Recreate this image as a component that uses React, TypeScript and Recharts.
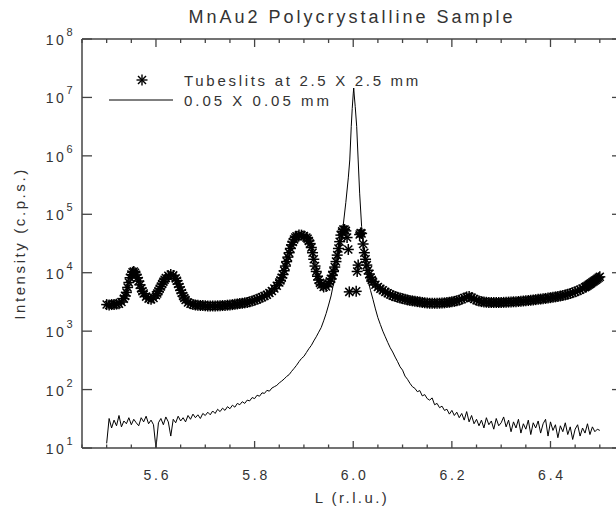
import React from 'react';
import { ComposedChart, Line, Scatter, XAxis, YAxis, Label } from 'recharts';

// 0.05 X 0.05 mm slits (solid line)
const LINE_L = [
  5.5, 5.505, 5.51, 5.515, 5.52, 5.525, 5.53, 5.535, 5.54, 5.545,
  5.55, 5.555, 5.56, 5.565, 5.57, 5.575, 5.58, 5.585, 5.59, 5.595,
  5.6, 5.605, 5.61, 5.615, 5.62, 5.625, 5.63, 5.635, 5.64, 5.645,
  5.65, 5.655, 5.66, 5.665, 5.67, 5.675, 5.68, 5.685, 5.69, 5.695,
  5.7, 5.705, 5.71, 5.715, 5.72, 5.725, 5.73, 5.735, 5.74, 5.745,
  5.75, 5.755, 5.76, 5.765, 5.77, 5.775, 5.78, 5.785, 5.79, 5.795,
  5.8, 5.805, 5.81, 5.815, 5.82, 5.825, 5.83, 5.835, 5.84, 5.845,
  5.85, 5.855, 5.86, 5.865, 5.87, 5.875, 5.88, 5.885, 5.89, 5.895,
  5.9, 5.905, 5.91, 5.915, 5.92, 5.925, 5.93, 5.935, 5.94, 5.945,
  5.95, 5.955, 5.96, 5.965, 5.97, 5.975, 5.98, 5.985,
  5.99, 5.993, 5.996, 5.998, 6.0, 6.001, 6.002, 6.004, 6.007, 6.01,
  6.013, 6.017, 6.02, 6.023,
  6.03, 6.035, 6.04, 6.045, 6.05, 6.055, 6.06, 6.065, 6.07, 6.075,
  6.08, 6.085, 6.09, 6.095, 6.1, 6.105, 6.11, 6.115, 6.12, 6.125,
  6.13, 6.135, 6.14, 6.145, 6.15, 6.155, 6.16, 6.165, 6.17, 6.175,
  6.18, 6.185, 6.19, 6.195, 6.2, 6.205, 6.21, 6.215, 6.22, 6.225,
  6.23, 6.235, 6.24, 6.245, 6.25, 6.255, 6.26, 6.265, 6.27, 6.275,
  6.28, 6.285, 6.29, 6.295, 6.3, 6.305, 6.31, 6.315, 6.32, 6.325,
  6.33, 6.335, 6.34, 6.345, 6.35, 6.355, 6.36, 6.365, 6.37, 6.375,
  6.38, 6.385, 6.39, 6.395, 6.4, 6.405, 6.41, 6.415, 6.42, 6.425,
  6.43, 6.435, 6.44, 6.445, 6.45, 6.455, 6.46, 6.465, 6.47, 6.475,
  6.48, 6.485, 6.49, 6.495, 6.5,
];
const LINE_I = [
  12, 32, 22, 30, 24, 36, 23, 29, 26, 33,
  25, 31, 27, 24, 33, 28, 35, 26, 30, 25,
  10, 27, 32, 25, 34, 28, 16, 31, 27, 35,
  29, 33, 28, 36, 31, 38, 33, 37, 32, 39,
  36, 41, 37, 43, 39, 46, 42, 48, 44, 51,
  47, 54, 50, 58, 55, 62, 58, 66, 64, 73,
  70, 80, 77, 88, 86, 97, 94, 106, 112, 118,
  130, 140, 152, 168, 180, 205, 230, 260, 300, 340,
  370, 430, 500, 570, 680, 800, 960, 1150, 1500, 2000,
  2800, 4000, 6500, 10500, 18000, 33000, 68000, 160000,
  420000, 850000, 3200000, 6500000, 11500000, 14500000, 11000000, 7000000, 3200000, 850000,
  230000, 62000, 30000, 17000,
  7500, 5000, 3500, 2400, 1700, 1300, 1000, 800, 640, 520,
  440, 360, 300, 245, 215, 170, 150, 128, 112, 105,
  92, 96, 78, 82, 70, 66, 72, 55, 58, 49,
  52, 44, 46, 38, 44, 36, 41, 33, 39, 30,
  42, 28, 36, 26, 31, 24, 30, 22, 33, 25,
  29, 21, 32, 24, 27, 34, 23, 30, 19, 28,
  22, 31, 18, 26, 21, 30, 17, 27, 22, 29,
  18, 26, 31, 16, 28, 20, 25, 15, 24, 19,
  27, 17, 23, 14, 21, 25, 16, 22, 18, 26,
  17, 23, 19, 21, 20,
];

// Tubeslits at 2.5 X 2.5 mm (asterisks)
const STAR_L = [
  5.5, 5.505, 5.51, 5.515, 5.52, 5.525, 5.53, 5.535, 5.54, 5.545,
  5.55, 5.555, 5.56, 5.565, 5.57, 5.575, 5.58, 5.585, 5.59, 5.595,
  5.6, 5.605, 5.61, 5.615, 5.62, 5.625, 5.63, 5.635, 5.64, 5.645,
  5.65, 5.655, 5.66, 5.665, 5.67, 5.675, 5.68, 5.685, 5.69, 5.695,
  5.7, 5.705, 5.71, 5.715, 5.72, 5.725, 5.73, 5.735, 5.74, 5.745,
  5.75, 5.755, 5.76, 5.765, 5.77, 5.775, 5.78, 5.785, 5.79, 5.795,
  5.8, 5.805, 5.81, 5.815, 5.82, 5.825, 5.83, 5.835, 5.84, 5.845,
  5.85, 5.855, 5.86, 5.865, 5.87, 5.875, 5.88, 5.885, 5.89, 5.895,
  5.9, 5.905, 5.91, 5.915, 5.92, 5.925, 5.93, 5.935, 5.94, 5.945,
  5.95, 5.955, 5.96, 5.965, 5.97, 5.975, 5.98, 5.985, 5.99, 5.992,
  6.006, 6.008, 6.01, 6.013, 6.017, 6.02, 6.025, 6.03, 6.035, 6.04,
  6.045, 6.05, 6.055, 6.06, 6.065, 6.07, 6.075, 6.08, 6.085, 6.09,
  6.095, 6.1, 6.105, 6.11, 6.115, 6.12, 6.125, 6.13, 6.135, 6.14,
  6.145, 6.15, 6.155, 6.16, 6.165, 6.17, 6.175, 6.18, 6.185, 6.19,
  6.195, 6.2, 6.205, 6.21, 6.215, 6.22, 6.225, 6.23, 6.235, 6.24,
  6.245, 6.25, 6.255, 6.26, 6.265, 6.27, 6.275, 6.28, 6.285, 6.29,
  6.295, 6.3, 6.305, 6.31, 6.315, 6.32, 6.325, 6.33, 6.335, 6.34,
  6.345, 6.35, 6.355, 6.36, 6.365, 6.37, 6.375, 6.38, 6.385, 6.39,
  6.395, 6.4, 6.405, 6.41, 6.415, 6.42, 6.425, 6.43, 6.435, 6.44,
  6.445, 6.45, 6.455, 6.46, 6.465, 6.47, 6.475, 6.48, 6.485, 6.49,
  6.495, 6.5,
  // in-between readings on the steep flanks
  5.5375, 5.5425, 5.5475, 5.5525, 5.5575, 5.5625, 5.5675, 5.5725,
  5.6025, 5.6075, 5.6125, 5.6175, 5.6425, 5.6475, 5.6525, 5.6575,
  5.8525, 5.8575, 5.8625, 5.8675, 5.8725, 5.8775, 5.8825,
  5.9075, 5.9125, 5.9175, 5.9225, 5.9275, 5.9325,
  5.9525, 5.9575, 5.9625, 5.9675, 5.9725, 5.9775, 5.9825, 5.9875,
  6.015, 6.0225, 6.0275, 6.0325, 6.0375,
  6.4725, 6.4775, 6.4825, 6.4875, 6.4925, 6.4975,
];
const STAR_I = [
  2850, 2800, 2850, 2850, 2900, 2950, 3150, 3600, 4600, 6800,
  9300, 10500, 9200, 7200, 5400, 4400, 3900, 3600, 3500, 3700,
  4100, 4800, 5800, 7000, 8100, 8900, 9300, 9000, 8000, 6400,
  5000, 4000, 3400, 3100, 2950, 2850, 2800, 2780, 2750, 2740,
  2720, 2700, 2700, 2700, 2700, 2710, 2720, 2740, 2760, 2780,
  2800, 2840, 2880, 2920, 2960, 3000, 3050, 3100, 3180, 3270,
  3380, 3500, 3650, 3800, 3980, 4200, 4480, 4850, 5350, 6000,
  6800, 8200, 10800, 15500, 22000, 30000, 37000, 42000, 44000, 44000,
  42500, 40000, 35000, 27000, 17000, 10500, 7500, 6200, 5700, 5800,
  6500, 7800, 10500, 15500, 26000, 44000, 55000, 52000, 25000, 4700,
  4800, 10500, 13500, 45000, 47000, 31000, 17000, 11000, 8200, 7000,
  6200, 5700, 5300, 5000, 4700, 4450, 4250, 4050, 3900, 3800,
  3700, 3600, 3500, 3420, 3350, 3300, 3250, 3200, 3150, 3100,
  3060, 3030, 3000, 3000, 3000, 3000, 3010, 3030, 3050, 3080,
  3120, 3170, 3230, 3300, 3400, 3520, 3680, 3850, 3900, 3750,
  3550, 3380, 3270, 3200, 3150, 3120, 3100, 3090, 3080, 3080,
  3090, 3100, 3110, 3120, 3140, 3160, 3180, 3200, 3220, 3250,
  3280, 3310, 3340, 3380, 3420, 3460, 3500, 3540, 3580, 3630,
  3680, 3740, 3800, 3860, 3930, 4000, 4080, 4170, 4270, 4400,
  4550, 4720, 4900, 5100, 5350, 5650, 6000, 6400, 6850, 7350,
  7900, 8500,
  4000, 5600, 8200, 10200, 10000, 8200, 6200, 4800,
  4400, 5300, 6400, 7600, 7300, 5700, 4500, 3700,
  7400, 9300, 13000, 18500, 26000, 33500, 40000,
  38000, 31500, 22000, 13000, 8700, 6700,
  7100, 9000, 12500, 20000, 34000, 51000, 55000, 40000,
  48000, 22000, 13500, 9500, 7500,
  5800, 6200, 6600, 7100, 7600, 8200,
];

const X_TICKS = [
  5.45, 5.5, 5.55, 5.6, 5.65, 5.7, 5.75, 5.8, 5.85, 5.9, 5.95, 6.0,
  6.05, 6.1, 6.15, 6.2, 6.25, 6.3, 6.35, 6.4, 6.45, 6.5,
];
const X_MAJOR = [5.6, 5.8, 6.0, 6.2, 6.4];
const X_LABELS = ['5.6', '5.8', '6.0', '6.2', '6.4'];
const Y_TICKS = [10, 100, 1000, 10000, 100000, 1000000, 10000000, 100000000];
const Y_EXP = ['1', '2', '3', '4', '5', '6', '7', '8'];

const lineRows = LINE_L.map((l, i) => ({ L: l, I: LINE_I[i] }));
const starRows = STAR_L.map((l, i) => ({ L: l, I: STAR_I[i] }));

const FONT = '"Liberation Sans", Arial, Helvetica, sans-serif';
const INK = '#333';
const AXIS = '#444';

const majorIndex = (v: number) => X_MAJOR.findIndex((m) => Math.abs(m - v) < 1e-6);

const BottomTick = (props: any) => {
  const { x, y, payload } = props;
  const i = majorIndex(payload.value);
  return (
    <g>
      <line x1={x} x2={x} y1={y} y2={y - (i >= 0 ? 7 : 3.5)} stroke={AXIS} strokeWidth={1.3} />
      {i >= 0 && (
        <text x={x + 1.5} y={y + 32} textAnchor="middle" fontFamily={FONT} fontSize={14}
          letterSpacing={2.8} fill={INK}>
          {X_LABELS[i]}
        </text>
      )}
    </g>
  );
};

const TopTick = (props: any) => {
  const { x, y, payload } = props;
  const i = majorIndex(payload.value);
  return <line x1={x} x2={x} y1={y} y2={y + (i >= 0 ? 8 : 4)} stroke={AXIS} strokeWidth={1.3} />;
};

const LeftTick = (props: any) => {
  const { x, y, payload } = props;
  const exp = Y_EXP[Y_TICKS.indexOf(payload.value)];
  return (
    <g>
      <line x1={x} x2={x + 10} y1={y} y2={y} stroke={AXIS} strokeWidth={1.3} />
      <text x={x - 7} y={y + 6} textAnchor="end" fontFamily={FONT} fontSize={14}
        letterSpacing={2.5} fill={INK}>
        10<tspan dy={-9} fontSize={11}>{exp}</tspan>
      </text>
    </g>
  );
};

const RightTick = (props: any) => {
  const { x, y } = props;
  return <line x1={x} x2={x - 10} y1={y} y2={y} stroke={AXIS} strokeWidth={1.3} />;
};

const Asterisk = (props: any) => {
  const { cx, cy } = props;
  if (cx == null || cy == null) return null;
  const r = 5.5;
  const d = 4;
  return (
    <g stroke="#000" strokeWidth={1.5}>
      <line x1={cx - r} x2={cx + r} y1={cy} y2={cy} />
      <line x1={cx} x2={cx} y1={cy - r} y2={cy + r} />
      <line x1={cx - d} x2={cx + d} y1={cy - d} y2={cy + d} />
      <line x1={cx - d} x2={cx + d} y1={cy + d} y2={cy - d} />
    </g>
  );
};

export default function App() {
  return (
    <div style={{ position: 'fixed', left: 0, top: 0, width: 616, height: 520, overflow: 'hidden', background: '#fff' }}>
      <ComposedChart width={637} height={520} margin={{ top: 0, right: 0, bottom: 0, left: 0 }}>
        <XAxis xAxisId="b" dataKey="L" type="number" domain={[5.45, 6.545]} allowDataOverflow
          ticks={X_TICKS} interval={0} height={72} tickSize={0} tickMargin={0} tickLine={false}
          tick={BottomTick} axisLine={{ stroke: AXIS, strokeWidth: 1.5 }}>
          <Label value="L (r.l.u.)" position="insideBottom" offset={17}
            style={{ fontFamily: FONT, fontSize: 15, letterSpacing: 2.4, fill: INK }} />
        </XAxis>
        <XAxis xAxisId="t" orientation="top" dataKey="L" type="number" domain={[5.45, 6.545]} allowDataOverflow
          ticks={X_TICKS} interval={0} height={39} tickSize={0} tickMargin={0} tickLine={false}
          tick={TopTick} axisLine={{ stroke: AXIS, strokeWidth: 1.5 }} />
        <YAxis yAxisId="l" dataKey="I" type="number" scale="log" domain={[10, 100000000]} allowDataOverflow
          ticks={Y_TICKS} interval={0} width={82} tickSize={0} tickMargin={0} tickLine={false}
          tick={LeftTick} axisLine={{ stroke: AXIS, strokeWidth: 1.5 }}>
          <Label value="Intensity (c.p.s.)" angle={-90} position="insideLeft" offset={20}
            style={{ fontFamily: FONT, fontSize: 15, letterSpacing: 2.6, fill: INK, textAnchor: 'middle' }} />
        </YAxis>
        <YAxis yAxisId="r" orientation="right" dataKey="I" type="number" scale="log" domain={[10, 100000000]}
          allowDataOverflow ticks={Y_TICKS} interval={0} width={15} tickSize={0} tickMargin={0}
          tickLine={false} tick={RightTick} axisLine={{ stroke: AXIS, strokeWidth: 1.5 }} />
        <Scatter xAxisId="b" yAxisId="l" data={starRows} shape={Asterisk} isAnimationActive={false} />
        <Line xAxisId="b" yAxisId="l" data={lineRows} dataKey="I" type="linear" stroke="#000"
          strokeWidth={1} dot={false} activeDot={false} isAnimationActive={false} />
      </ComposedChart>
      <svg width={616} height={520} style={{ position: 'absolute', left: 0, top: 0, pointerEvents: 'none' }}>
        <text x={352} y={23} textAnchor="middle" fontFamily={FONT} fontSize={18} letterSpacing={3} fill={INK}>
          MnAu2 Polycrystalline Sample
        </text>
        <g stroke="#000" strokeWidth={1.4}>
          <line x1={136.5} x2={147.5} y1={80} y2={80} />
          <line x1={142} x2={142} y1={74.5} y2={85.5} />
          <line x1={138} x2={146} y1={76} y2={84} />
          <line x1={138} x2={146} y1={84} y2={76} />
        </g>
        <text x={184} y={85.5} fontFamily={FONT} fontSize={15} letterSpacing={2.7} fill={INK}>
          Tubeslits at 2.5 X 2.5 mm
        </text>
        <line x1={109} x2={173} y1={100} y2={100} stroke="#000" strokeWidth={1} />
        <text x={184} y={105.5} fontFamily={FONT} fontSize={15} letterSpacing={3} fill={INK}>
          0.05 X 0.05 mm
        </text>
      </svg>
    </div>
  );
}
